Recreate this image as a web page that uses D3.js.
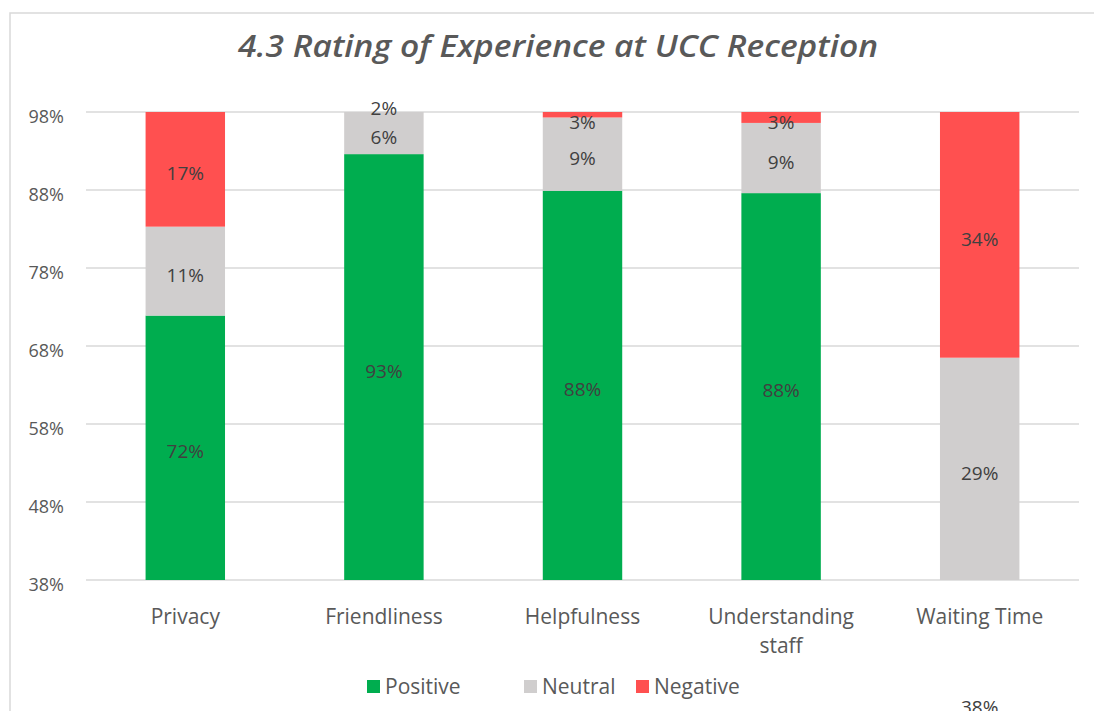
<!DOCTYPE html>
<html>
<head>
<meta charset="utf-8">
<script src="https://cdn.jsdelivr.net/npm/d3@7"></script>
<style>
  body { margin: 0; background: #fff; }
  svg { display: block; font-family: "Open Sans", sans-serif; }
</style>
</head>
<body>
<div id="chart"></div>
<script>
// Data
const categories = ['Privacy', 'Friendliness', 'Helpfulness', 'Understanding staff', 'Waiting Time'];
const positive = [71.9, 92.6, 87.9, 87.6, 37.6];
const neutral  = [11.4, 5.6, 9.4, 9.0, 28.9];
const negative = [16.7, 1.8, 2.7, 3.4, 33.5];
const seriesNames = ['Positive', 'Neutral', 'Negative'];
const seriesColors = ['#00ad4f', '#d0cece', '#ff5050'];
const yTicks = [38, 48, 58, 68, 78, 88, 98];

const width = 1094, height = 711;
const margin = { top: 112, right: 15, bottom: 131, left: 86 };

const svg = d3.select('#chart').append('svg')
    .attr('width', width)
    .attr('height', height);

// chart frame
svg.append('rect')
    .attr('x', 10).attr('y', 13)
    .attr('width', 1100).attr('height', 720)
    .attr('fill', '#fff')
    .attr('stroke', '#d9d9d9')
    .attr('stroke-width', 1.5);

// title
svg.append('text')
    .attr('x', 558).attr('y', 57)
    .attr('text-anchor', 'middle')
    .attr('font-size', 30)
    .attr('font-style', 'italic')
    .attr('font-weight', 600)
    .attr('fill', '#595959')
    .attr('textLength', 640)
    .attr('lengthAdjust', 'spacingAndGlyphs')
    .text('4.3 Rating of Experience at UCC Reception');

const x = d3.scaleBand()
    .domain(categories)
    .range([margin.left, width - margin.right])
    .paddingInner(0.6)
    .paddingOuter(0.3);

const y = d3.scaleLinear()
    .domain([38, 98])
    .range([height - margin.bottom, margin.top]);

// gridlines
svg.append('g')
    .selectAll('line')
    .data(yTicks)
    .join('line')
    .attr('x1', margin.left).attr('x2', width - margin.right)
    .attr('y1', d => y(d)).attr('y2', d => y(d))
    .attr('stroke', '#d9d9d9')
    .attr('stroke-width', 1.5);

// y tick labels
svg.append('g')
    .selectAll('text')
    .data(yTicks)
    .join('text')
    .attr('x', 64)
    .attr('y', d => y(d) + 11)
    .attr('text-anchor', 'end')
    .attr('font-size', 18)
    .attr('fill', '#595959')
    .text(d => d + '%');

// stack
const rows = categories.map((c, i) => ({ cat: c, Positive: positive[i], Neutral: neutral[i], Negative: negative[i] }));
const valueOf = { Positive: positive, Neutral: neutral, Negative: negative };
const stacked = d3.stack().keys(seriesNames)(rows);

svg.append('clipPath').attr('id', 'plot-clip')
    .append('rect')
    .attr('x', margin.left).attr('y', margin.top)
    .attr('width', width - margin.left - margin.right)
    .attr('height', height - margin.top - margin.bottom);

const bars = svg.append('g').attr('clip-path', 'url(#plot-clip)');
stacked.forEach((layer, si) => {
    bars.append('g')
        .attr('fill', seriesColors[si])
        .selectAll('rect')
        .data(layer)
        .join('rect')
        .attr('x', d => x(d.data.cat))
        .attr('width', x.bandwidth())
        .attr('y', d => y(d[1]))
        .attr('height', d => y(d[0]) - y(d[1]));
});

// value labels (Excel keeps them inside the visible range)
const [yMin, yMax] = y.domain();
const labelY = d => {
    const lo = Math.max(d[0], yMin), hi = Math.min(d[1], yMax);
    let cy;
    if (hi > lo) cy = Math.max(y((lo + hi) / 2), y(yMax) + 6);
    else if (d[0] >= yMax) cy = y(yMax) - 8;
    else cy = Math.min(y((d[0] + d[1]) / 2), 703);
    return cy + 4;
};
const labels = svg.append('g');
stacked.forEach((layer, si) => {
    labels.append('g')
        .selectAll('text')
        .data(layer)
        .join('text')
        .attr('x', d => x(d.data.cat) + x.bandwidth() / 2)
        .attr('y', labelY)
        .attr('dy', '0.35em')
        .attr('text-anchor', 'middle')
        .attr('font-size', 19)
        .attr('fill', '#404040')
        .text((d, i) => Math.round(valueOf[layer.key][i]) + '%');
});

// category labels (wrapped like Excel)
const catLines = categories.flatMap(c => {
    const parts = c === 'Understanding staff' ? ['Understanding', 'staff'] : [c];
    return parts.map((p, i) => ({ cat: c, text: p, line: i }));
});
svg.append('g')
    .selectAll('text')
    .data(catLines)
    .join('text')
    .attr('x', d => x(d.cat) + x.bandwidth() / 2)
    .attr('y', d => 624 + d.line * 29)
    .attr('text-anchor', 'middle')
    .attr('font-size', 21)
    .attr('fill', '#595959')
    .text(d => d.text);

// legend
const legendX = [367, 524, 636];
const legend = svg.append('g')
    .selectAll('g')
    .data(seriesNames)
    .join('g')
    .attr('transform', (d, i) => `translate(${legendX[i]},686)`);
legend.append('rect')
    .attr('x', 0).attr('y', -6)
    .attr('width', 13).attr('height', 13)
    .attr('fill', (d, i) => seriesColors[i]);
legend.append('text')
    .attr('x', 18).attr('y', 8)
    .attr('font-size', 21)
    .attr('fill', '#595959')
    .text(d => d);
</script>
</body>
</html>
